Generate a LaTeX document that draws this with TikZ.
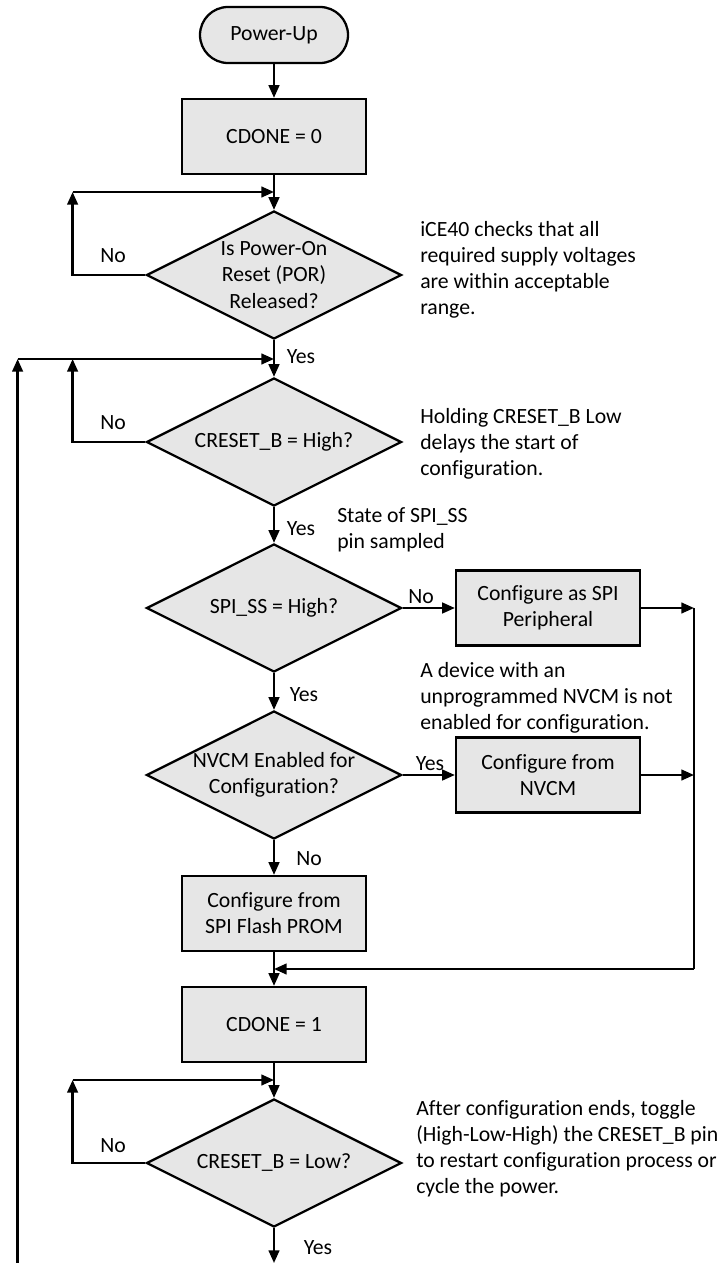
\documentclass[tikz,border=0pt]{standalone}
\usepackage{fontspec}
\setmainfont{Carlito}[Ligatures={NoCommon}]
\usepackage{xcolor}
\usepackage{tikz}
\usetikzlibrary{shapes.geometric,shapes.misc,arrows.meta,positioning}

\definecolor{boxgray}{RGB}{230,230,230}

\begin{document}
\begin{tikzpicture}[x=0.75pt,y=-0.75pt,
	every node/.style={font=\fontsize{16.3}{19.6}\selectfont},
	flow/.style={line width=1.7pt},
	arr/.style={flow,-{Triangle[length=9.5pt,width=8pt]}},
	startbox/.style={rounded rectangle,draw,line width=1.7pt,fill=boxgray,minimum width=111pt,minimum height=42pt,inner sep=0pt},
	procbox/.style={rectangle,draw,line width=1.7pt,fill=boxgray,minimum width=138pt,minimum height=56.25pt,inner sep=0pt,align=center},
	decision/.style={diamond,aspect=2,draw,line width=1.7pt,fill=boxgray,minimum width=191.25pt,minimum height=96pt,inner sep=-4pt,align=center},
	note/.style={anchor=north west,align=left,inner sep=0pt},
	answer/.style={inner sep=0pt}]
		\useasboundingbox (0,0) rectangle (725,1263);
		% main column
		\node[startbox] (pwr) at (274,35) {Power-Up};
		\node[procbox] (cd0) at (274,136.5) {CDONE = 0};
		\node[decision] (por) at (274,275) {Is Power-On\\Reset (POR)\\Released?};
		\node[decision] (crhi) at (274,442) {CRESET\_B = High?};
		\node[decision] (spiss) at (274,608) {SPI\_SS = High?};
		\node[decision] (nvcm) at (274,775) {NVCM Enabled for\\Configuration?};
		\node[procbox] (cfgflash) at (274,913.5) {Configure from\\SPI Flash PROM};
		\node[procbox] (cd1) at (274,1024.5) {CDONE = 1};
		\node[decision] (crlo) at (274,1163) {CRESET\_B = Low?};
		% side boxes
		\node[procbox] (cfgspi) at (548,608) {Configure as SPI\\Peripheral};
		\node[procbox] (cfgnvcm) at (548,775) {Configure from\\NVCM};
		% merge points
		\coordinate (m1) at (274,192);
		\coordinate (c1) at (72.6,192);
		\coordinate (m2) at (274,359);
		\coordinate (c2) at (72.6,359);
		\coordinate (o2) at (17.6,359);
		\coordinate (obot) at (17.6,1263);
		\coordinate (r1) at (694,608);
		\coordinate (r2) at (694,775);
		\coordinate (r3) at (694,969);
		\coordinate (m3) at (274,969);
		\coordinate (m4) at (274,1080);
		\coordinate (c4) at (72.6,1080);
		\coordinate (bot) at (274,1263);
		% arrows
		\draw[arr] (pwr.south) -- (cd0.north);
		\draw[arr] (cd0.south) -- (por.north);
		\draw[arr] (por.south) -- (crhi.north);
		\draw[arr] (crhi.south) -- (spiss.north);
		\draw[arr] (spiss.south) -- (nvcm.north);
		\draw[arr] (nvcm.south) -- (cfgflash.north);
		\draw[arr] (cfgflash.south) -- (cd1.north);
		\draw[arr] (cd1.south) -- (crlo.north);
		\draw[arr] (crlo.south) -- (bot);
		\draw[arr] (spiss.east) -- (cfgspi.west);
		\draw[arr] (nvcm.east) -- (cfgnvcm.west);
		\draw[arr] (cfgspi.east) -- (r1);
		\draw[arr] (cfgnvcm.east) -- (r2);
		\draw[flow] (r1) -- (r3);
		\draw[arr] (r3) -- (m3);
		% loops
		\draw[arr] (por.west) -| (c1);
		\draw[arr] (c1) -- (m1);
		\draw[arr] (crhi.west) -| (c2);
		\draw[arr] (obot) -- (o2);
		\draw[arr] (o2) -- (m2);
		\draw[arr] (crlo.west) -| (c4);
		\draw[arr] (c4) -- (m4);
		% answers
		\node[answer] (no1) at (113,256) {No};
		\node[answer] (yes1) at (301,357) {Yes};
		\node[answer] (no2) at (113,423) {No};
		\node[answer] (yes2) at (301,529) {Yes};
		\node[answer] (no3) at (421,597) {No};
		\node[answer] (yes3) at (304,695) {Yes};
		\node[answer] (yes4) at (430,764) {Yes};
		\node[answer] (no4) at (309,859) {No};
		\node[answer] (no5) at (113,1146) {No};
		\node[answer] (yes5) at (318,1248) {Yes};
		% notes
		\node[note] (n1) at (420,221) {iCE40 checks that all\\required supply voltages\\are within acceptable\\range.};
		\node[note] (n2) at (420,408) {Holding CRESET\_B Low\\delays the start of\\configuration.};
		\node[note] (n3) at (337,507) {State of SPI\_SS\\pin sampled};
		\node[note] (n4) at (420,662) {A device with an\\unprogrammed NVCM is not\\enabled for configuration.};
		\node[note] (n5) at (416,1100) {After configuration ends, toggle\\(High-Low-High) the CRESET\_B pin\\to restart configuration process or\\cycle the power.};
	\end{tikzpicture}
\end{document}
